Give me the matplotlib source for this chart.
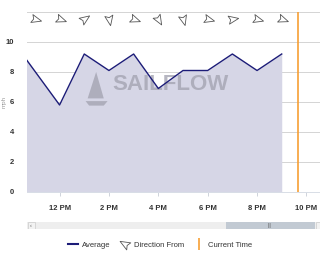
import matplotlib
matplotlib.use('Agg')
import matplotlib.pyplot as plt
from matplotlib.path import Path
from matplotlib.markers import MarkerStyle
from matplotlib.transforms import Affine2D
from matplotlib.lines import Line2D
from matplotlib.patches import Rectangle, Polygon

# wind speed, hourly (hour of day, mph)
hours = [10, 11, 12, 13, 14, 15, 16, 17, 18, 19, 20, 21]
speed = [10.3, 8.05, 5.8, 9.2, 8.1, 9.2, 6.9, 8.1, 8.1, 9.2, 8.1, 9.2]

# direction arrows (degrees the arrow points, 0 = to the right)
dir_hours = [11, 12, 13, 14, 15, 16, 17, 18, 19, 20, 21]
dir_angle = [-15, -20, 35, -80, -20, -60, -75, -15, 10, -15, -20]

current_time = 21.66
tick_hours = [12, 14, 16, 18, 20, 22]
tick_labels = ['12 PM', '2 PM', '4 PM', '6 PM', '8 PM', '10 PM']

plt.rcParams['font.family'] = ['Liberation Sans', 'DejaVu Sans']

fig = plt.figure(figsize=(3.2, 2.58), dpi=100)
ax = fig.add_axes([27 / 320, 1 - 192 / 258, 1 - 27 / 320, 180 / 258])

ax.fill_between(hours, speed, 0, color='#d6d6e6', lw=0, zorder=1)
ax.plot(hours, speed, color='#1c1c78', lw=1.0, zorder=3)
ax.axvline(current_time, color='#f7a035', lw=1.2, zorder=4)

# arrowhead marker pointing right, with a small notch at the back
arrow = Path([(1, 0), (-0.6, 0.65), (-0.3, 0), (-0.6, -0.65), (1, 0)],
             [Path.MOVETO, Path.LINETO, Path.LINETO, Path.LINETO, Path.CLOSEPOLY])
for h, a in zip(dir_hours, dir_angle):
    m = MarkerStyle(arrow, transform=Affine2D().rotate_deg(a))
    ax.plot(h, 11.55, marker=m, ms=9, mfc='white', mec='#555555', mew=0.6,
            ls='none', zorder=5)

ax.set_xlim(10.68, 22.55)
ax.set_ylim(0, 12)
ax.set_yticks([0, 2, 4, 6, 8, 10, 12])
ax.set_yticklabels(['0', '2', '4', '6', '8', '10', ''])
ax.set_xticks(tick_hours)
ax.set_xticklabels(tick_labels)
ax.grid(axis='y', color='#d4d4d4', lw=0.7, zorder=0)
ax.set_axisbelow(True)
for s in ['top', 'right', 'left']:
    ax.spines[s].set_visible(False)
ax.spines['bottom'].set_color('#d8dde6')
ax.spines['bottom'].set_linewidth(0.7)
ax.tick_params(axis='x', length=3, width=0.6, color='#c8ccd6', labelsize=5.5,
               labelcolor='#333333', pad=6)
ax.tick_params(axis='y', length=0, labelsize=5.5, labelcolor='#333333', pad=9)
for t in ax.get_xticklabels() + ax.get_yticklabels():
    t.set_fontweight('bold')
ax.set_ylabel('mph', fontsize=4.5, color='#999999')
ax.yaxis.set_label_coords(-0.068, 0.5)

# watermark
wm = '#a4a4b2'
ax.text(0.49, 0.595, 'SAILFLOW', transform=ax.transAxes, ha='center', va='center',
        fontsize=16, fontweight='bold', color=wm, alpha=0.8, zorder=2)
ax.add_patch(Polygon([(0.236, 0.667), (0.207, 0.52), (0.262, 0.52)],
                     transform=ax.transAxes, color=wm, alpha=0.8, lw=0, zorder=2))
ax.add_patch(Polygon([(0.2, 0.505), (0.275, 0.505), (0.262, 0.48), (0.212, 0.48)],
                     transform=ax.transAxes, color=wm, alpha=0.8, lw=0, zorder=2))

# scrollbar
sb = fig.add_axes([27 / 320, 1 - 229 / 258, 1 - 27 / 320, 7 / 258])
sb.set_xlim(27, 320)
sb.set_ylim(0, 1)
sb.axis('off')
sb.add_patch(Rectangle((27, 0), 293, 1, color='#eeeeee', lw=0))
sb.add_patch(Rectangle((226, 0), 89, 1, color='#c2cad3', lw=0))
sb.add_patch(Rectangle((27.5, 0.05), 7, 0.9, fc='#f2f2f2', ec='#cccccc', lw=0.5))
sb.add_patch(Rectangle((315.5, 0.05), 7, 0.9, fc='#f2f2f2', ec='#cccccc', lw=0.5))
sb.text(31, 0.5, '‹', fontsize=4, ha='center', va='center', color='#555555')
sb.text(270, 0.5, '|||', fontsize=3.5, ha='center', va='center', color='#555555')

# legend
handles = [
    Line2D([], [], color='#1c1c78', lw=1.5),
    Line2D([], [], ls='none', marker=MarkerStyle(arrow, transform=Affine2D().rotate_deg(150)),
           ms=9, mfc='white', mec='#555555', mew=0.6),
    Line2D([], [], ls='none', marker='|', ms=9, mec='#f7a035', mew=1.2),
]
fig.legend(handles, ['Average', 'Direction From', 'Current Time'], loc='center',
           bbox_to_anchor=(0.5, 1 - 245 / 258), ncol=3, frameon=False, fontsize=5.5,
           labelcolor='#333333', handlelength=1.4, handletextpad=0.5, columnspacing=1.2)

fig.savefig('out.png', dpi=100)
